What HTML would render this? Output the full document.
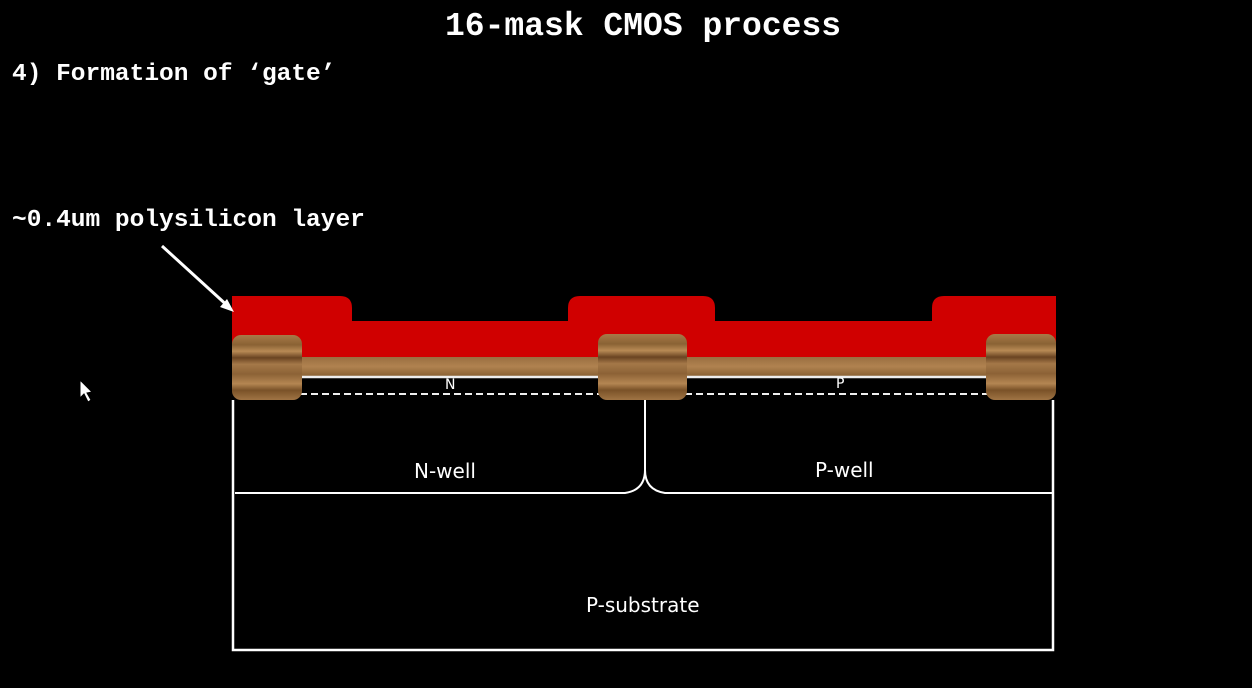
<html><head><style>
body{margin:0;background:#000;width:1252px;height:688px;overflow:hidden;position:relative;font-family:"Liberation Mono",monospace;}
.t{position:absolute;color:#fff;font-weight:bold;white-space:pre;font-family:"Liberation Mono",monospace;}
.s{position:absolute;color:#fff;font-family:"DejaVu Sans","Liberation Sans",sans-serif;}
</style></head><body>
<div class="t" style="left:445px;top:8px;font-size:33px;">16-mask CMOS process</div>
<div class="t" style="left:12px;top:61px;font-size:24.5px;">4) Formation of ‘gate’</div>
<div class="t" style="left:12px;top:207px;font-size:24.5px;">~0.4um polysilicon layer</div>
<svg width="1252" height="688" style="position:absolute;left:0;top:0">
<defs>
<linearGradient id="w" x1="0" y1="0" x2="0" y2="1">
<stop offset="0" stop-color="#a87a48"/><stop offset=".15" stop-color="#8a6234"/><stop offset=".25" stop-color="#b88a55"/><stop offset=".35" stop-color="#6a4422"/><stop offset=".45" stop-color="#a47848"/><stop offset=".6" stop-color="#8c6236"/><stop offset=".75" stop-color="#b48652"/><stop offset=".85" stop-color="#7a5228"/><stop offset="1" stop-color="#a07444"/>
</linearGradient>
<linearGradient id="w2" x1="0" y1="0" x2="0" y2="1">
<stop offset="0" stop-color="#9a6e40"/><stop offset=".5" stop-color="#b08250"/><stop offset="1" stop-color="#8a6234"/>
</linearGradient>
</defs>
<path d="M232 296 H340 Q352 296 352 308 V321 H568 V308 Q568 296 580 296 H703 Q715 296 715 308 V321 H932 V308 Q932 296 944 296 H1056 V358 H232 Z" fill="#d00000"/>
<rect x="232" y="357" width="824" height="19" fill="url(#w2)"/>
<line x1="300" y1="377" x2="1000" y2="377" stroke="#eee" stroke-width="2.5"/>
<line x1="300" y1="394" x2="1000" y2="394" stroke="#eee" stroke-width="2" stroke-dasharray="7,4"/>
<rect x="232" y="335" width="70" height="65" rx="9" fill="url(#w)"/>
<rect x="598" y="334" width="89" height="66" rx="9" fill="url(#w)"/>
<rect x="986" y="334" width="70" height="66" rx="9" fill="url(#w)"/>
<path d="M233 400 V650 H1053 V400" fill="none" stroke="#fff" stroke-width="2.5"/>
<path d="M235 493 H625 Q645 490 645 470 V400 M645 470 Q645 490 665 493 H1053" fill="none" stroke="#fff" stroke-width="2"/>
<line x1="162" y1="246" x2="230" y2="308" stroke="#fff" stroke-width="3"/>
<polygon points="234,312 220,307 227,299" fill="#fff"/>
<polygon points="80,380 80,398 84,394 88,402 91,400 87,393 92,392" fill="#fff" stroke="#000" stroke-width="1"/>
</svg>
<div class="s" style="left:445px;top:377px;font-size:14px;">N</div>
<div class="s" style="left:836px;top:376px;font-size:14px;">P</div>
<div class="s" style="left:414px;top:459px;font-size:20px;">N-well</div>
<div class="s" style="left:815px;top:458px;font-size:20px;">P-well</div>
<div class="s" style="left:586px;top:593px;font-size:20px;">P-substrate</div>
</body></html>
